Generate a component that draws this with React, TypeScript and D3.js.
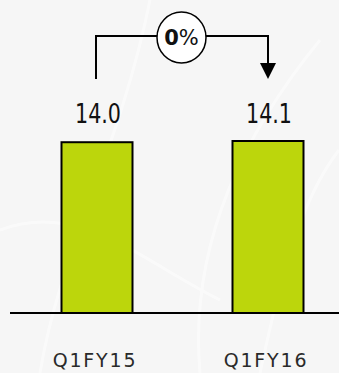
import React from "react";
import * as d3 from "d3";

const categories = ["Q1FY15", "Q1FY16"];
const values = [14.0, 14.1];
const valueLabels = ["14.0", "14.1"];
const growthValue = "0";
const growthUnit = "%";

const W = 339;
const H = 373;

export default function App() {
  const x = d3.scalePoint<string>().domain(categories).range([97, 268]);
  const y = d3.scaleLinear().domain([0, d3.max(values) as number]).range([313, 141]);
  const barW = 71;
  const x0 = x(categories[0]) as number;
  const x1 = x(categories[1]) as number;
  const lineY = 36;
  const cx = (x0 + x1) / 2 - 1;
  const path = d3.path();
  path.moveTo(x0 - 1, 79);
  path.lineTo(x0 - 1, lineY);
  path.lineTo(x1, lineY);
  path.lineTo(x1, 64);
  return (
    <svg
      width={W}
      height={H}
      style={{ position: "absolute", left: 0, top: 0, display: "block" }}
    >
      <rect x={0} y={0} width={W} height={H} fill="#f6f6f6" />
      <g fill="none" stroke="#ffffff" strokeWidth={3} opacity={0.5}>
        <path d="M40,373 C60,250 120,150 150,0" />
        <path d="M200,373 C190,260 230,150 320,40" />
        <path d="M0,230 C80,200 140,260 220,300" />
        <path d="M260,373 C280,280 300,200 339,150" />
      </g>
      {categories.map((c, i) => (
        <rect
          key={c}
          x={(x(c) as number) - barW / 2}
          y={y(values[i])}
          width={barW}
          height={y(0) - y(values[i])}
          fill="#bcd60c"
          stroke="#000"
          strokeWidth={2}
        />
      ))}
      <line x1={10} x2={W} y1={y(0)} y2={y(0)} stroke="#000" strokeWidth={2} />
      {categories.map((c, i) => (
        <text
          key={"v" + c}
          x={(x(c) as number) - 22}
          y={123}
          fontFamily="'DejaVu Sans Condensed', 'DejaVu Sans'"
          fontSize={27}
          textLength={46}
          lengthAdjust="spacingAndGlyphs"
          fill="#111"
        >
          {valueLabels[i]}
        </text>
      ))}
      {categories.map((c) => (
        <text
          key={"c" + c}
          x={(x(c) as number) - 2}
          y={367}
          textAnchor="middle"
          fontFamily="DejaVu Sans"
          fontSize={19}
          letterSpacing={1.8}
          fill="#2a2a2a"
        >
          {c}
        </text>
      ))}
      <path d={path.toString()} fill="none" stroke="#000" strokeWidth={2} />
      <path d={`M${x1 - 8},63 L${x1 + 8},63 L${x1},79 Z`} fill="#000" />
      <ellipse cx={cx} cy={lineY + 1.5} rx={24.5} ry={25.5} fill="#fff" stroke="#000" strokeWidth={1.5} />
      <text
        x={cx}
        y={45}
        textAnchor="middle"
        fontFamily="DejaVu Sans"
        fontSize={21}
        fill="#111"
      >
        <tspan fontWeight="bold">{growthValue}</tspan>
        <tspan>{growthUnit}</tspan>
      </text>
    </svg>
  );
}
